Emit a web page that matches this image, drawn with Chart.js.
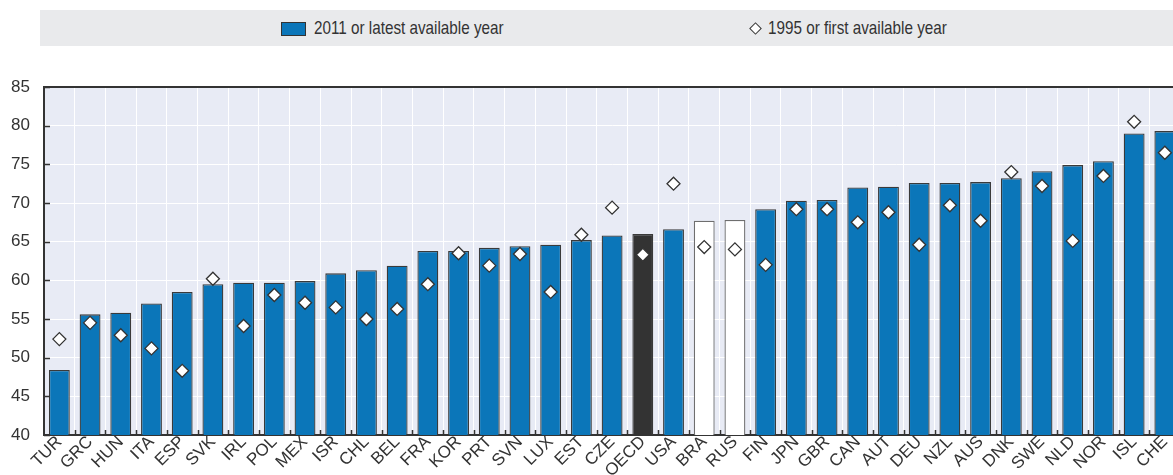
<!DOCTYPE html>
<html>
<head>
<meta charset="utf-8">
<script src="https://cdn.jsdelivr.net/npm/chart.js@4.4.1/dist/chart.umd.min.js"></script>
<style>
  html, body { margin: 0; padding: 0; background: #fff; overflow: hidden; }
  #wrap { position: relative; width: 1188px; height: 475px; }
  #legend {
    position: absolute; left: 40px; top: 10px; width: 1148px; height: 36px;
    background: #e9eaec;
    font-family: "Liberation Sans", Arial, sans-serif;
    font-size: 18.6px; color: #333;
  }
  #legend .txt {
    position: absolute; top: 0; height: 36px; line-height: 36px; white-space: nowrap;
    transform: scaleX(0.82); transform-origin: left center;
  }
  .box { position: absolute; left: 241px; top: 12px; width: 23px; height: 12px; background: #0b76b9; border: 1px solid #333; }
  .dia { position: absolute; left: 711px; top: 13.5px; width: 7px; height: 7px; background: #fff; border: 1.3px solid #333; transform: rotate(45deg); }
  #c { position: absolute; left: 0; top: 0; }
</style>
</head>
<body>
<div id="wrap">
  <div id="legend">
    <span class="box"></span><span class="txt" style="left:274px">2011 or latest available year</span>
    <span class="dia"></span><span class="txt" style="left:728px">1995 or first available year</span>
  </div>
  <canvas id="c" width="1188" height="475"></canvas>
</div>
<script>
const countries = ['TUR', 'GRC', 'HUN', 'ITA', 'ESP', 'SVK', 'IRL', 'POL', 'MEX', 'ISR', 'CHL', 'BEL',
    'FRA', 'KOR', 'PRT', 'SVN', 'LUX', 'EST', 'CZE', 'OECD', 'USA', 'BRA', 'RUS', 'FIN', 'JPN', 'GBR',
    'CAN', 'AUT', 'DEU', 'NZL', 'AUS', 'DNK', 'SWE', 'NLD', 'NOR', 'ISL', 'CHE'];

const latestYear = [48.4, 55.6, 55.8, 57.0, 58.5, 59.5, 59.7, 59.7, 59.9, 60.9, 61.3, 61.9,
    63.8, 63.8, 64.2, 64.4, 64.6, 65.2, 65.8, 66.0, 66.6, 67.7, 67.8, 69.2, 70.3, 70.4,
    72.0, 72.1, 72.6, 72.6, 72.7, 73.2, 74.1, 74.9, 75.4, 79.0, 79.3];

const firstYear = [52.4, 54.5, 52.9, 51.2, 48.3, 60.2, 54.1, 58.1, 57.1, 56.5, 55.0, 56.3,
    59.5, 63.5, 61.9, 63.4, 58.5, 65.9, 69.4, 63.3, 72.5, 64.3, 64.0, 62.0, 69.2, 69.2,
    67.5, 68.8, 64.6, 69.7, 67.7, 74.0, 72.2, 65.1, 73.5, 80.5, 76.5];

const yTicks = [40, 45, 50, 55, 60, 65, 70, 75, 80, 85];

const BLUE = '#0b76b9';
const barFill = countries.map(c => c === 'OECD' ? '#333333' : (c === 'BRA' || c === 'RUS') ? '#ffffff' : BLUE);
const barEdge = countries.map(c => (c === 'BRA' || c === 'RUS') ? '#6e6e6e' : '#3a3a3a');

const FONT = '"Liberation Sans", Arial, sans-serif';

// plot background, top border line and inward tick marks
const frame = {
    id: 'frame',
    beforeDraw(chart) {
        const a = chart.chartArea, ctx = chart.ctx;
        ctx.save();
        ctx.fillStyle = '#e8ebf5';
        ctx.fillRect(a.left, a.top, a.right - a.left, a.bottom - a.top);
        ctx.restore();
    },
    afterDatasetsDraw(chart) {
        const a = chart.chartArea, ctx = chart.ctx;
        const x = chart.scales.x, y = chart.scales.y;
        ctx.save();
        ctx.strokeStyle = '#333';
        ctx.lineWidth = 2;
        ctx.beginPath();
        ctx.moveTo(a.left - 1, a.top);
        ctx.lineTo(a.right, a.top);
        ctx.stroke();
        ctx.lineWidth = 1.5;
        ctx.beginPath();
        for (let i = 1; i < countries.length; i++) {
            const px = Math.round((x.getPixelForValue(i - 1) + x.getPixelForValue(i)) / 2) + 0.5;
            ctx.moveTo(px, a.bottom);
            ctx.lineTo(px, a.bottom - 5);
        }
        yTicks.forEach(v => {
            const py = Math.round(y.getPixelForValue(v)) + 0.5;
            ctx.moveTo(a.left, py);
            ctx.lineTo(a.left + 6, py);
        });
        ctx.stroke();
        ctx.restore();
    }
};

new Chart(document.getElementById('c'), {
    type: 'bar',
    data: {
        labels: countries,
        datasets: [{
            type: 'line',
            label: '1995 or first available year',
            data: firstYear,
            showLine: false,
            pointStyle: 'rectRot',
            pointRadius: 6.5,
            pointBackgroundColor: '#ffffff',
            pointBorderColor: '#333333',
            pointBorderWidth: 1.3,
            order: 0,
        }, {
            label: '2011 or latest available year',
            data: latestYear,
            backgroundColor: barFill,
            borderColor: barEdge,
            borderWidth: 1.3,
            barPercentage: 0.68,
            categoryPercentage: 1,
            order: 1,
        }],
    },
    options: {
        responsive: false,
        animation: false,
        layout: { padding: { top: 87, right: 4, left: 0, bottom: 0 } },
        plugins: {
            legend: { display: false },
            tooltip: { enabled: false },
        },
        scales: {
            x: {
                afterFit(scale) { scale.height = 40; },
                grid: { color: '#ffffff', lineWidth: 1, drawTicks: false, offset: true },
                border: { color: '#333', width: 2 },
                ticks: {
                    color: '#333',
                    font: { family: FONT, size: 17 },
                    maxRotation: 45,
                    minRotation: 45,
                    autoSkip: false,
                    padding: -3,
                },
            },
            y: {
                min: 40,
                max: 85,
                afterFit(scale) { scale.width = 44; },
                grid: { color: '#ffffff', lineWidth: 1, drawTicks: false },
                border: { color: '#333', width: 2 },
                ticks: {
                    stepSize: 5,
                    color: '#333',
                    font: { family: FONT, size: 17 },
                    padding: 14,
                },
            },
        },
    },
    plugins: [frame],
});
</script>
</body>
</html>
